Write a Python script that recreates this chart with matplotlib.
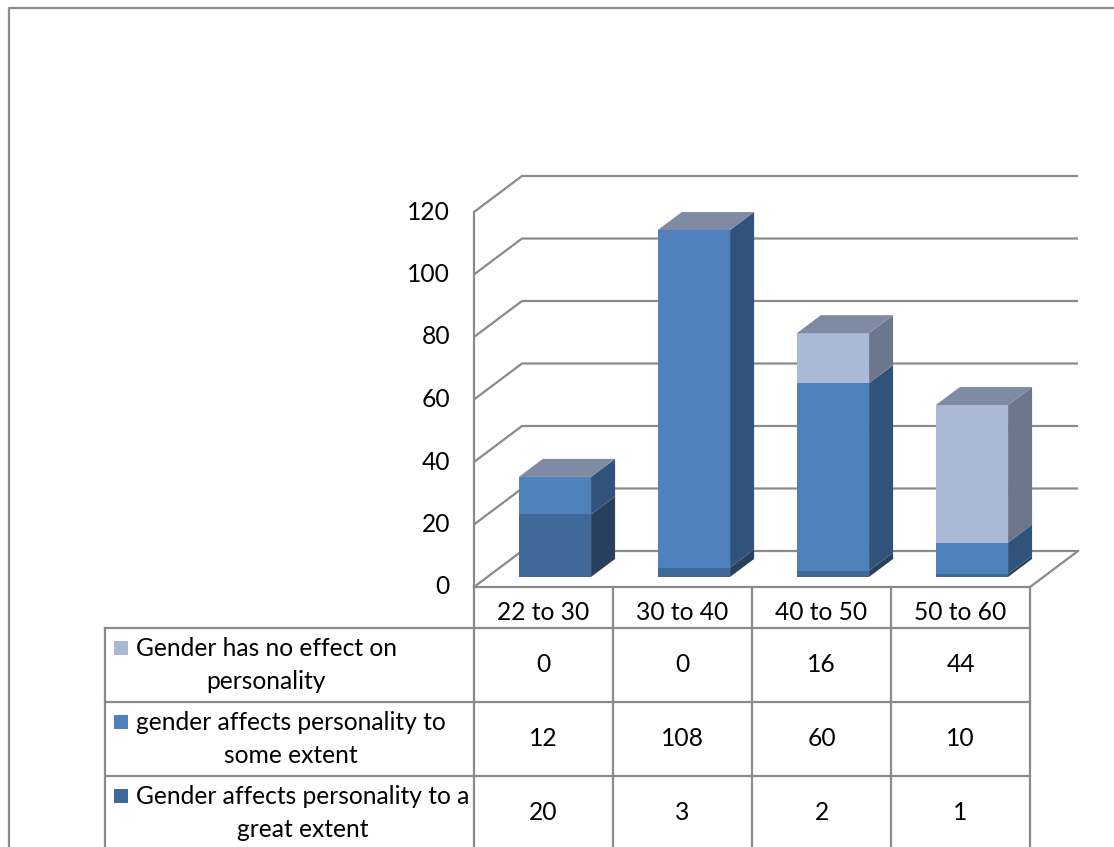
import numpy as np
import matplotlib
matplotlib.use("Agg")
import matplotlib.pyplot as plt
from matplotlib.patches import Rectangle, Polygon

plt.rcParams['font.family'] = ['Lato', 'DejaVu Sans']

# --- data ---
age_groups = ["22 to 30", "30 to 40", "40 to 50", "50 to 60"]
series_names = [
    "Gender has no effect on\npersonality",
    "gender affects personality to\nsome extent",
    "Gender affects personality to a\ngreat extent",
]
no_effect = [0, 0, 16, 44]
some_extent = [12, 108, 60, 10]
great_extent = [20, 3, 2, 1]
y_ticks = [0, 20, 40, 60, 80, 100, 120]

# front / side colours per series (bottom to top of stack)
front_cols = ["#3F6999", "#4F81BD", "#AAB9D6"]
side_cols = ["#283F5E", "#31527B", "#6C778B"]
top_col = "#7F8BA3"
grid_col = "#8A8A8A"
FS = 17.7

W, H = 1114, 847
fig = plt.figure(figsize=(W / 100, H / 100), dpi=100)
fig.patch.set_facecolor("white")

# pixel layout of the front plane
X0, Y0 = 474, 587
COLW = 139
PX_PER_UNIT = 375 / 120

ax = fig.add_axes([X0 / W, (H - Y0) / H, 4 * COLW / W, 120 * PX_PER_UNIT / H])
ax.set_xlim(0, 4)
ax.set_ylim(0, 120)
ax.axis("off")

# depth of the 3d box, in data units
DX = 48 / COLW
DY = 36 / PX_PER_UNIT
d0, d1 = 0.28, 0.78
bar_w = 0.52
n = len(age_groups)

# back wall grid lines + left wall diagonals
for v in y_ticks:
    ax.plot([0, DX, n + DX], [v, v + DY, v + DY], color=grid_col, lw=1.6,
            clip_on=False, zorder=1, solid_capstyle="butt")
    ax.text(-24 / COLW, v, str(v), ha="right", va="center", fontsize=FS,
            color="black")
# front left edge and floor
ax.plot([0, 0], [0, 120], color=grid_col, lw=1.6, clip_on=False, zorder=1)
ax.plot([0, n, n + DX], [0, 0, DY], color=grid_col, lw=1.6, clip_on=False,
        zorder=1)

stack = np.array([great_extent, some_extent, no_effect], dtype=float)
for i in range(n):
    xl = i + 0.5 - bar_w / 2 + d0 * DX - 2 / COLW
    xr = xl + bar_w
    sdx = (d1 - d0) * DX
    sdy = (d1 - d0) * DY
    base = d0 * DY
    bottom = 0.0
    for s in range(3):
        val = stack[s, i]
        if val <= 0:
            continue
        y0 = base + bottom
        y1 = y0 + val
        ax.add_patch(Rectangle((xl, y0), bar_w, val, facecolor=front_cols[s],
                               edgecolor="none", clip_on=False, zorder=3))
        ax.add_patch(Polygon([(xr, y0), (xr + sdx, y0 + sdy),
                              (xr + sdx, y1 + sdy), (xr, y1)],
                             closed=True, facecolor=side_cols[s],
                             edgecolor="none", clip_on=False, zorder=3))
        bottom += val
    top = base + bottom
    ax.add_patch(Polygon([(xl, top), (xr, top), (xr + sdx, top + sdy),
                          (xl + sdx, top + sdy)], closed=True,
                         facecolor=top_col, edgecolor="none", clip_on=False,
                         zorder=3))

# --- data table under the plot, drawn in pixel space ---
tab = fig.add_axes([0, 0, 1, 1], zorder=-1)
tab.set_xlim(0, W)
tab.set_ylim(H, 0)
tab.axis("off")
tab.patch.set_alpha(0)

row_edges = [Y0, 628, 702, 776, 850]
TL = 105
col_edges = [X0 + COLW * k for k in range(n + 1)]
lc = grid_col
# verticals of the category columns
for x in col_edges:
    tab.plot([x, x], [Y0, H], color=lc, lw=1.6)
tab.plot([TL, TL], [row_edges[1], H], color=lc, lw=1.6)
for y in row_edges[1:4]:
    tab.plot([TL, col_edges[-1]], [y, y], color=lc, lw=1.6)

for k, g in enumerate(age_groups):
    tab.text(X0 + COLW * (k + 0.5), (row_edges[0] + row_edges[1]) / 2 + 5, g,
             ha="center", va="center", fontsize=FS)

rows = [no_effect, some_extent, great_extent]
row_cols = [front_cols[2], front_cols[1], front_cols[0]]
for r in range(3):
    yc = (row_edges[r + 1] + row_edges[r + 2]) / 2
    tab.add_patch(Rectangle((114, yc - 24), 14, 14, facecolor=row_cols[r],
                            edgecolor="none"))
    tab.text(136, yc, series_names[r], ha="left", va="center",
             multialignment="center", fontsize=FS, linespacing=1.5)
    for k in range(n):
        tab.text(X0 + COLW * (k + 0.5), yc, str(rows[r][k]), ha="center",
                 va="center", fontsize=FS)

# outer chart border
tab.plot([9, 9, W], [H, 8, 8], color="#8C8C8C", lw=1.6)

fig.savefig("out.png", dpi=100, facecolor="white")
